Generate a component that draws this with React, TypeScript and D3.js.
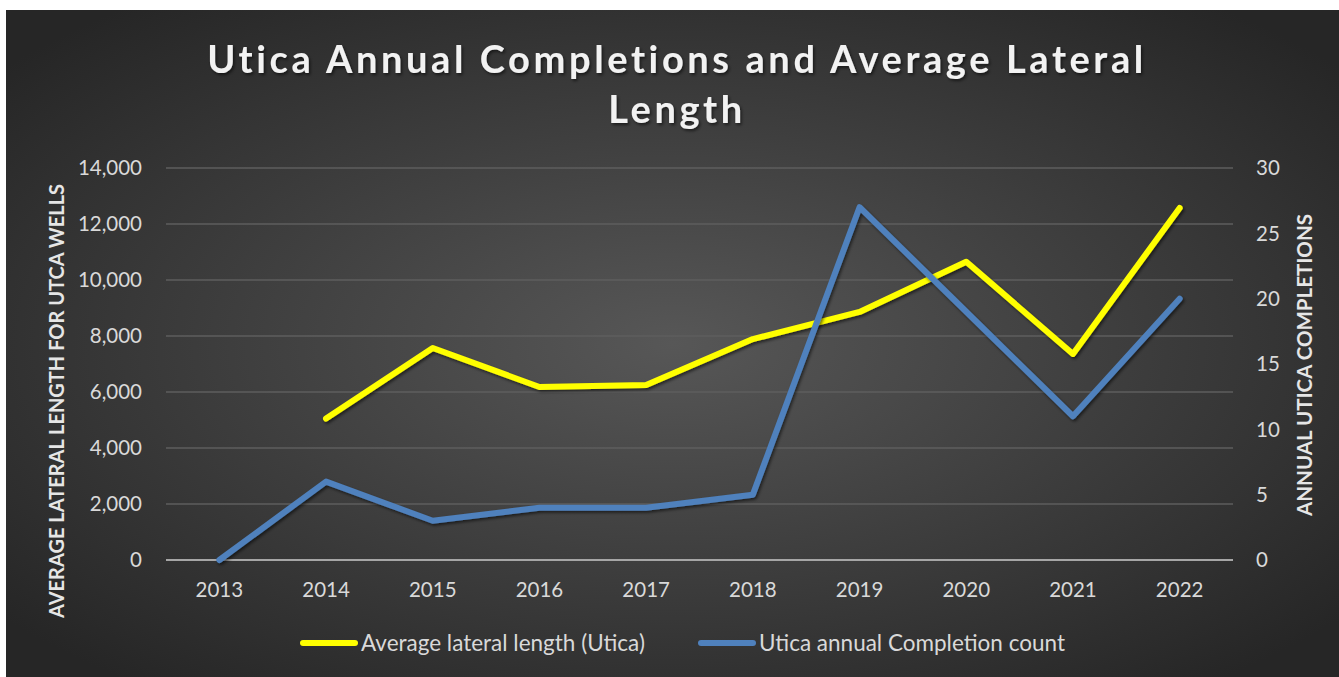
import { useRef, useEffect } from "react";
import * as d3 from "d3";

const years = ["2013", "2014", "2015", "2016", "2017", "2018", "2019", "2020", "2021", "2022"];
const lateralLength: (number | null)[] = [null, 5050, 7570, 6180, 6250, 7890, 8860, 10650, 7360, 12570];
const completions = [0, 6, 3, 4, 4, 5, 27, 19, 11, 20];
const leftTicks = [0, 2000, 4000, 6000, 8000, 10000, 12000, 14000];
const rightTicks = [0, 5, 10, 15, 20, 25, 30];

const W = 1339;
const H = 677;
const FONT = "Lato, 'Open Sans', sans-serif";

export default function App() {
  const svgRef = useRef<SVGSVGElement>(null);

  useEffect(() => {
    if (!svgRef.current) return;
    const svg = d3.select(svgRef.current);
    svg.selectAll("*").remove();

    const defs = svg.append("defs");
    const grad = defs
      .append("radialGradient")
      .attr("id", "bg")
      .attr("cx", "50%")
      .attr("cy", "50%")
      .attr("r", "65%");
    grad.append("stop").attr("offset", "0%").attr("stop-color", "#575757");
    grad.append("stop").attr("offset", "100%").attr("stop-color", "#262626");

    const shadow = defs.append("filter").attr("id", "shadow").attr("x", "-10%").attr("y", "-10%").attr("width", "120%").attr("height", "130%");
    shadow
      .append("feDropShadow")
      .attr("dx", 1.5)
      .attr("dy", 2)
      .attr("stdDeviation", 1.5)
      .attr("flood-color", "#000")
      .attr("flood-opacity", 0.55);

    svg.append("rect").attr("width", W).attr("height", H).attr("fill", "#fff");
    svg.append("rect").attr("x", 6).attr("y", 10).attr("width", W - 6).attr("height", H - 10).attr("fill", "url(#bg)");

    const left = 166;
    const right = 1233;
    const top = 168;
    const bottom = 560;

    const x = d3.scaleBand<string>().domain(years).range([left, right]);
    const yL = d3.scaleLinear().domain([0, 14000]).range([bottom, top]);
    const yR = d3.scaleLinear().domain([0, 30]).range([bottom, top]);
    const cx = (d: string) => (x(d) ?? 0) + x.bandwidth() / 2;

    // gridlines
    svg
      .append("g")
      .selectAll("line")
      .data(leftTicks)
      .enter()
      .append("line")
      .attr("x1", left)
      .attr("x2", right)
      .attr("y1", (d) => yL(d))
      .attr("y2", (d) => yL(d))
      .attr("stroke", (d) => (d === 0 ? "#a6a6a6" : "#5e5e5e"))
      .attr("stroke-width", (d) => (d === 0 ? 2 : 1.3));

    const tickColor = "#d9d9d9";
    const fmt = d3.format(",");

    svg
      .append("g")
      .selectAll("text")
      .data(leftTicks)
      .enter()
      .append("text")
      .attr("x", 142)
      .attr("y", (d) => yL(d))
      .attr("dy", "0.35em")
      .attr("text-anchor", "end")
      .attr("fill", tickColor)
      .attr("font-family", FONT)
      .attr("font-size", "20.5px")
      .text((d) => fmt(d));

    svg
      .append("g")
      .selectAll("text")
      .data(rightTicks)
      .enter()
      .append("text")
      .attr("x", 1256)
      .attr("y", (d) => yR(d))
      .attr("dy", "0.35em")
      .attr("text-anchor", "start")
      .attr("fill", tickColor)
      .attr("font-family", FONT)
      .attr("font-size", "20.5px")
      .text((d) => d);

    svg
      .append("g")
      .selectAll("text")
      .data(years)
      .enter()
      .append("text")
      .attr("x", (d) => cx(d))
      .attr("y", 597)
      .attr("text-anchor", "middle")
      .attr("fill", tickColor)
      .attr("font-family", FONT)
      .attr("font-size", "20.5px")
      .text((d) => d);

    // axis titles
    svg
      .append("text")
      .attr("transform", `translate(64,401) rotate(-90)`)
      .attr("text-anchor", "middle")
      .attr("fill", "#e6e6e6")
      .attr("font-family", FONT)
      .attr("font-weight", "700")
      .attr("font-size", "20px")
      .text("AVERAGE LATERAL LENGTH FOR UTCA WELLS");

    svg
      .append("text")
      .attr("transform", `translate(1312,365) rotate(-90)`)
      .attr("text-anchor", "middle")
      .attr("fill", "#e6e6e6")
      .attr("font-family", FONT)
      .attr("font-weight", "700")
      .attr("font-size", "20.5px")
      .text("ANNUAL UTICA COMPLETIONS");

    // title
    const title = svg
      .append("text")
      .attr("text-anchor", "middle")
      .attr("fill", "#f2f2f2")
      .attr("font-family", FONT)
      .attr("font-weight", "700")
      .attr("font-size", "38px")
      .attr("letter-spacing", "3.6px")
      .attr("filter", "url(#shadow)");
    title.append("tspan").attr("x", 677).attr("y", 73).text("Utica Annual Completions and Average Lateral");
    title.append("tspan").attr("x", 677).attr("y", 123).text("Length");

    // series
    const lineL = d3
      .line<number | null>()
      .defined((d) => d !== null)
      .x((_, i) => cx(years[i]))
      .y((d) => yL(d as number));
    const lineR = d3
      .line<number>()
      .x((_, i) => cx(years[i]))
      .y((d) => yR(d));

    svg
      .append("path")
      .datum(lateralLength)
      .attr("d", lineL)
      .attr("fill", "none")
      .attr("stroke", "#ffff00")
      .attr("stroke-width", 6)
      .attr("stroke-linejoin", "round")
      .attr("stroke-linecap", "round")
      .attr("filter", "url(#shadow)");

    svg
      .append("path")
      .datum(completions)
      .attr("d", lineR)
      .attr("fill", "none")
      .attr("stroke", "#4f81bd")
      .attr("stroke-width", 6)
      .attr("stroke-linejoin", "round")
      .attr("stroke-linecap", "round")
      .attr("filter", "url(#shadow)");

    // legend
    const legend = [
      { label: "Average lateral length (Utica)", color: "#ffff00", x: 300 },
      { label: "Utica annual Completion count", color: "#4f81bd", x: 698 },
    ];
    legend.forEach((d) => {
      svg
        .append("line")
        .attr("x1", d.x + 3)
        .attr("x2", d.x + 55)
        .attr("y1", 643)
        .attr("y2", 643)
        .attr("stroke", d.color)
        .attr("stroke-width", 6)
        .attr("stroke-linecap", "round");
      svg
        .append("text")
        .attr("x", d.x + 61)
        .attr("y", 643)
        .attr("dy", "0.35em")
        .attr("fill", tickColor)
        .attr("font-family", FONT)
        .attr("font-size", "22.5px")
        .text(d.label);
    });
  }, []);

  return (
    <div style={{ position: "absolute", left: 0, top: 0 }}>
      <svg ref={svgRef} width={W} height={H} style={{ display: "block" }} />
    </div>
  );
}
